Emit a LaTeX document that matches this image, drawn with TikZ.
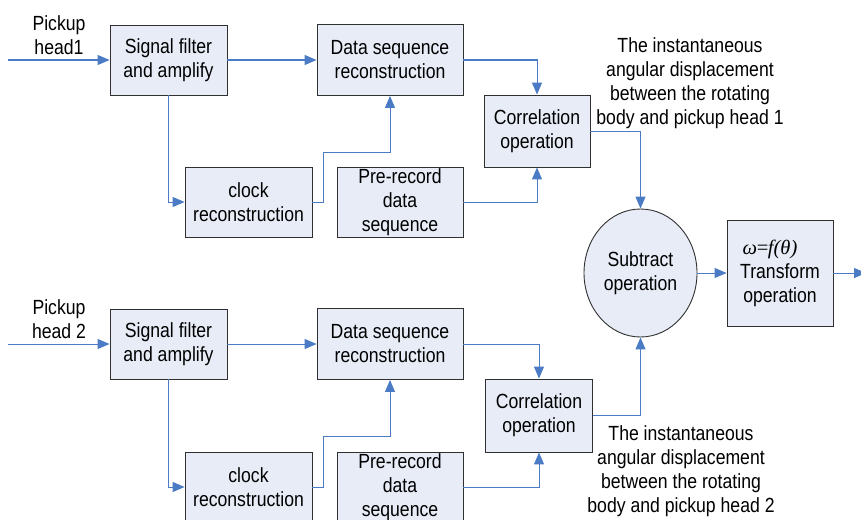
\documentclass[tikz,border=0pt]{standalone}
\usepackage{fontspec}
\setmainfont{Liberation Sans}[FakeStretch=0.86]
\newfontfamily\tms{Liberation Serif}
\usetikzlibrary{arrows.meta, shapes.geometric}
\definecolor{boxfill}{HTML}{E7ECF7}
\definecolor{wire}{HTML}{4A7BC4}
\definecolor{edge}{HTML}{303030}

\begin{document}
\begin{tikzpicture}[
    x=1pt, y=-1pt,
    every node/.style = {font=\fontsize{20.5}{24}\selectfont, align=center, inner sep=0pt},
    blk/.style        = {draw=edge, fill=boxfill, line width=0.9pt},
    oval/.style       = {ellipse, draw=edge, fill=boxfill, line width=0.9pt,
                         minimum width=113pt, minimum height=128pt},
    link/.style       = {draw=wire, line width=1pt, -{Triangle[length=12pt,width=10pt]}}
    ]
      \useasboundingbox (0,0) rectangle (861,519);

      % upper channel --------------------------------------------
      \node[blk, minimum width=117pt, minimum height=70pt] (sf1)  at (168.5,60)  {Signal filter\\and amplify};
      \node[blk, minimum width=146pt, minimum height=71pt] (ds1)  at (390,60)    {Data sequence\\reconstruction};
      \node[blk, minimum width=127pt, minimum height=70pt] (clk1) at (248.5,202) {clock\\reconstruction};
      \node[blk, minimum width=126pt, minimum height=70pt] (pre1) at (400,202)   {Pre-record\\data\\sequence};
      \node[blk, minimum width=106pt, minimum height=72pt] (cor1) at (537,131)   {Correlation\\operation};
      \node (in1lbl) at (59,35)   {Pickup\\head1};
      \node (ang1)   at (690,83)  {The instantaneous\\angular displacement\\between the rotating\\body and pickup head 1};

      % lower channel --------------------------------------------
      \node[blk, minimum width=117pt, minimum height=70pt] (sf2)  at (168.5,344) {Signal filter\\and amplify};
      \node[blk, minimum width=146pt, minimum height=71pt] (ds2)  at (390,344)   {Data sequence\\reconstruction};
      \node[blk, minimum width=127pt, minimum height=70pt] (clk2) at (248.5,487) {clock\\reconstruction};
      \node[blk, minimum width=126pt, minimum height=70pt] (pre2) at (400,487)   {Pre-record\\data\\sequence};
      \node[blk, minimum width=107pt, minimum height=73pt] (cor2) at (539,415.5) {Correlation\\operation};
      \node (in2lbl) at (59,319)  {Pickup\\head 2};
      \node (ang2)   at (681,471) {The instantaneous\\angular displacement\\between the rotating\\body and pickup head 2};

      % output stage ---------------------------------------------
      \node[oval] (sub) at (640.5,273) {Subtract\\operation};
      \node[blk, minimum width=106pt, minimum height=106pt] (tr) at (780,273)
            {\hspace*{-20pt}{\tms\itshape ω\kern-1.5pt=\kern-1.5pt f(θ)}\\Transform\\operation};

      \coordinate (in1) at (8,60);
      \coordinate (in2) at (8,344);
      \coordinate (k1)  at (323,152);
      \coordinate (k2)  at (323,436);
      \coordinate (out) at (866,273);

      % connectors -----------------------------------------------
      \draw[link] (in1) -- (sf1);
      \draw[link] (sf1) -- (ds1);
      \draw[link] (sf1.south) |- (clk1.west);
      \draw[link] (clk1.east) -| (k1) -| (ds1.south);
      \draw[link] (ds1.east) -| (cor1.north);
      \draw[link] (pre1.east) -| (cor1.south);
      \draw[link] (cor1.east) -| (sub.north);

      \draw[link] (in2) -- (sf2);
      \draw[link] (sf2) -- (ds2);
      \draw[link] (sf2.south) |- (clk2.west);
      \draw[link] (clk2.east) -| (k2) -| (ds2.south);
      \draw[link] (ds2.east) -| (cor2.north);
      \draw[link] (pre2.east) -| (cor2.south);
      \draw[link] (cor2.east) -| (sub.south);

      \draw[link] (sub) -- (tr);
      \draw[link] (tr) -- (out);
\end{tikzpicture}
\end{document}
